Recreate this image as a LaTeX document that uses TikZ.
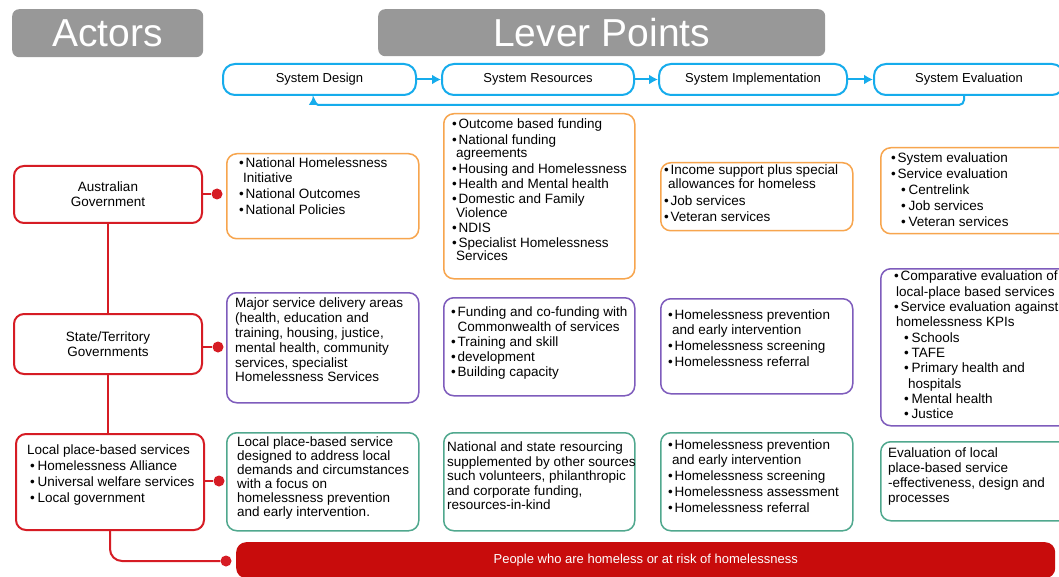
\documentclass[tikz,border=0pt]{standalone}
\usepackage{fontspec}
\setmainfont{Liberation Sans}
\usetikzlibrary{arrows.meta}

\definecolor{hdrgray}{RGB}{152,152,152}
\definecolor{sysblue}{RGB}{22,172,236}
\definecolor{actred}{RGB}{214,28,36}
\definecolor{barred}{RGB}{200,12,12}
\definecolor{fedorange}{RGB}{247,165,78}
\definecolor{statepurple}{RGB}{126,92,188}
\definecolor{localgreen}{RGB}{80,168,142}

\newcommand{\bul}{\makebox[6.5pt][l]{•}}
\newcommand{\hang}{\hspace*{4pt}}
\newcommand{\subbul}{\hspace*{10pt}\makebox[7.5pt][l]{•}}
\newcommand{\wbul}{\hspace*{3pt}\makebox[7.5pt][l]{•}}

\tikzset{
  header/.style={fill=hdrgray, rounded corners=7pt, text=white, anchor=north west,
    font=\fontsize{39}{40}\selectfont, inner sep=0pt},
  sysbox/.style={draw=sysblue, line width=2pt, rounded corners=12pt, anchor=north west,
    minimum height=31, font=\fontsize{13}{15}\selectfont, inner sep=0pt},
  actorbox/.style={draw=actred, line width=2pt, rounded corners=10pt, fill=white,
    anchor=north west, align=center, inner sep=0pt, font=\fontsize{13.5}{15}\selectfont},
  leverbox/.style={line width=1.5pt, rounded corners=10pt, fill=white, anchor=north west,
    inner sep=0pt},
  boxtext/.style={anchor=north west, align=left, inner sep=0pt,
    font=\fontsize{13.5}{14.5}\selectfont},
  joint/.style={circle, fill=actred, inner sep=0pt, minimum size=11pt},
  actline/.style={actred, line width=2pt},
  flow/.style={sysblue, line width=2pt, -{Latex[length=9pt,width=10pt]}},
  peoplebar/.style={fill=barred, rounded corners=10pt, anchor=north west, text=white,
    inner sep=0pt, font=\fontsize{13}{15}\selectfont}
}

\begin{document}
\begin{tikzpicture}[x=1pt,y=-1pt]
  \clip (0,0) rectangle (1059,577);
  \fill[white] (0,0) rectangle (1059,577);

  \node[header, minimum width=191, minimum height=48] (actors) at (12,9) {Actors};
  \node[header, minimum width=447, minimum height=47] (levers) at (378,9) {Lever Points};

  \node[sysbox, minimum width=193] (sysdesign) at (222,63) {System Design};
  \node[sysbox, minimum width=192] (sysres) at (441,63) {System Resources};
  \node[sysbox, minimum width=188] (sysimpl) at (658,63) {System Implementation};
  \node[sysbox, minimum width=190] (syseval) at (873,63) {System Evaluation};
  \draw[flow] (sysdesign) -- (sysres);
  \draw[flow] (sysres) -- (sysimpl);
  \draw[flow] (sysimpl) -- (syseval);
  \draw[flow, rounded corners=5pt] ([xshift=-5pt]syseval.south) -- ++(0,9) -| ([xshift=-6pt]sysdesign.south);

  \node[actorbox, minimum width=188, minimum height=57] (ausgov) at (13,165) {Australian\\Government};
  \node[actorbox, minimum width=188, minimum height=60] (stategov) at (13,313) {State/Territory\\Governments};
  \node[actorbox, minimum width=188, minimum height=96] (localsvc) at (15,433) {};
  \node[boxtext, font=\fontsize{13.5}{16}\selectfont] (localtxt) at (27,445)
    {Local place-based services\\ \wbul Homelessness Alliance\\ \wbul Universal welfare services\\ \wbul Local government};

  \draw[actline] (ausgov.south) -- (ausgov.south |- stategov.north);
  \draw[actline] (stategov.south) -- (stategov.south |- localsvc.north);
  \node[joint] (ausdot) at (217,194) {};
  \node[joint] (statedot) at (218,347) {};
  \node[joint] (localdot) at (219,481) {};
  \node[joint] (peopledot) at (226,561) {};
  \draw[actline] (ausgov.east |- ausdot) -- (ausdot);
  \draw[actline] (stategov.east |- statedot) -- (statedot);
  \draw[actline] (localsvc.east |- localdot) -- (localdot);
  \draw[actline, rounded corners=12pt] (localsvc.south) |- (peopledot);

  \node[peoplebar, minimum width=819, minimum height=36] (people) at (236,542)
    {People who are homeless or at risk of homelessness};

  \node[leverbox, draw=fedorange, minimum width=192, minimum height=85] (dsgnfed) at (226,153) {};
  \node[leverbox, draw=statepurple, minimum width=192, minimum height=110] (dsgnstate) at (226,292) {};
  \node[leverbox, draw=localgreen, minimum width=192, minimum height=98] (dsgnlocal) at (226,432) {};
  \node[leverbox, draw=fedorange, minimum width=191, minimum height=165] (resfed) at (443,113) {};
  \node[leverbox, draw=statepurple, minimum width=191, minimum height=98] (resstate) at (443,297) {};
  \node[leverbox, draw=localgreen, minimum width=191, minimum height=98] (reslocal) at (443,432) {};
  \node[leverbox, draw=fedorange, minimum width=192, minimum height=68] (implfed) at (660,162) {};
  \node[leverbox, draw=statepurple, minimum width=192, minimum height=95] (implstate) at (660,298) {};
  \node[leverbox, draw=localgreen, minimum width=192, minimum height=98] (impllocal) at (660,432) {};
  \node[leverbox, draw=fedorange, minimum width=200, minimum height=86] (evalfed) at (880,147) {};
  \node[leverbox, draw=statepurple, minimum width=200, minimum height=157] (evalstate) at (880,268) {};
  \node[leverbox, draw=localgreen, minimum width=200, minimum height=79] (evallocal) at (880,441) {};

  \node[boxtext] (dsgnfedtxt) at (239,158)
    {\bul National Homelessness\\ \hang Initiative\\[1.5pt] \bul National Outcomes\\[1.5pt] \bul National Policies};
  \node[boxtext, font=\fontsize{13.5}{14.8}\selectfont] (dsgnstatetxt) at (235,298)
    {Major service delivery areas\\(health, education and\\training, housing, justice,\\mental health, community\\services, specialist\\Homelessness Services};
  \node[boxtext, font=\fontsize{13.5}{14}\selectfont] (dsgnlocaltxt) at (237,437)
    {Local place-based service\\designed to address local\\demands and circumstances\\with a focus on\\homelessness prevention\\and early intervention.};

  \node[boxtext, font=\fontsize{13.5}{13.5}\selectfont] (resfedtxt) at (452,119)
    {\bul Outcome based funding\\[2pt] \bul National funding\\ \hang agreements\\[2pt] \bul Housing and Homelessness\\[1.5pt]
     \bul Health and Mental health\\[2pt] \bul Domestic and Family\\ \hang Violence\\[1.5pt] \bul NDIS\\[1.5pt]
     \bul Specialist Homelessness\\ \hang Services};
  \node[boxtext, font=\fontsize{13.5}{15}\selectfont] (resstatetxt) at (451,307)
    {\bul Funding and co-funding with\\ \hspace*{6.5pt}Commonwealth of services\\ \bul Training and skill\\ \bul development\\ \bul Building capacity};
  \node[boxtext] (reslocaltxt) at (447,442)
    {National and state resourcing\\supplemented by other sources\\such volunteers, philanthropic\\and corporate funding,\\resources-in-kind};

  \node[boxtext, font=\fontsize{13.5}{14}\selectfont] (implfedtxt) at (664,165)
    {\bul Income support plus special\\ \hang allowances for homeless\\[2.5pt] \bul Job services\\[2pt] \bul Veteran services};
  \node[boxtext] (implstatetxt) at (668,310)
    {\bul Homelessness prevention\\ \hang and early intervention\\[1.5pt] \bul Homelessness screening\\[1.5pt] \bul Homelessness referral};
  \node[boxtext] (impllocaltxt) at (668,440)
    {\bul Homelessness prevention\\ \hang and early intervention\\[1.5pt] \bul Homelessness screening\\[1.5pt]
     \bul Homelessness assessment\\[1.5pt] \bul Homelessness referral};

  \node[boxtext, font=\fontsize{13.5}{16}\selectfont] (evalfedtxt) at (891,153)
    {\bul System evaluation\\ \bul Service evaluation\\ \subbul Centrelink\\ \subbul Job services\\ \subbul Veteran services};
  \node[boxtext, font=\fontsize{13.5}{15.3}\selectfont] (evalstatetxt) at (894,271)
    {\bul Comparative evaluation of\\ \hspace*{2pt}local-place based services\\ \bul Service evaluation against\\ \hspace*{2pt}homelessness KPIs\\
     \subbul Schools\\ \subbul TAFE\\ \subbul Primary health and\\ \hspace*{14pt}hospitals\\ \subbul Mental health\\ \subbul Justice};
  \node[boxtext, font=\fontsize{13.5}{14.7}\selectfont] (evallocaltxt) at (888,448)
    {Evaluation of local\\place-based service\\-effectiveness, design and\\processes};
\end{tikzpicture}
\end{document}
